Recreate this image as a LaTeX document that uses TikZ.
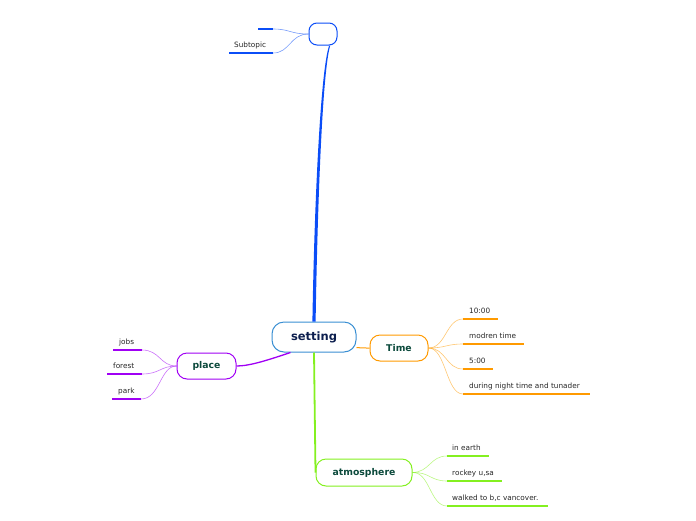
\documentclass[tikz,border=0pt]{standalone}
\usepackage{fontspec}
\setmainfont{DejaVu Sans}
\usetikzlibrary{calc}
\definecolor{cblue}{HTML}{0B4DF7}
\definecolor{cset}{HTML}{3A8FD3}
\definecolor{cpurple}{HTML}{A000F4}
\definecolor{corange}{HTML}{FF9A00}
\definecolor{cgreen}{HTML}{84F020}
\definecolor{clabel}{HTML}{0C4A3C}
\definecolor{cnavy}{HTML}{0C1E4E}
\begin{document}
\begin{tikzpicture}[x=1pt,y=-1pt,
  topic/.style={draw, line width=1pt, rounded corners=10pt, fill=white, inner sep=0pt,
    font=\bfseries\fontsize{9.3}{11}\selectfont, text=clabel},
  sub/.style={font=\fontsize{7.3}{8}\selectfont, text=black!85, inner sep=0pt, anchor=base west},
  uline/.style={line width=1.8pt},
  twig/.style={line width=0.6pt, opacity=0.55},
]
\useasboundingbox (0,0) rectangle (696,520);

% main nodes
\node[topic, draw=cset, text=cnavy, minimum width=84pt, minimum height=30pt, rounded corners=12pt,
  font=\bfseries\fontsize{11.5}{13}\selectfont] (set) at (314,337) {setting};
\node[topic, draw=cblue, minimum width=28pt, minimum height=22pt, rounded corners=8pt] (top) at (323,34) {};
\node[topic, draw=cpurple, minimum width=59pt, minimum height=26pt] (place) at (206.5,366) {place};
\node[topic, draw=corange, minimum width=58pt, minimum height=26pt] (time) at (399,348) {Time};
\node[topic, draw=cgreen, minimum width=96pt, minimum height=27pt] (atm) at (364,472.5) {atmosphere};

% main connectors (tapered)
\fill[cblue] ($(set.north)+(-1.6,0)$) .. controls (314.4,200) and (320.6,70) .. ($(top.-60)+(-0.5,0)$)
  -- ($(top.-60)+(0.6,0)$) .. controls (322.6,70) and (317.6,200) .. ($(set.north)+(1.6,0)$) -- cycle;
\draw[cpurple, line width=1.3pt] ($(set.south west)+(19,0)$) .. controls (268,360) and (250,366) .. (place.east);
\draw[corange, line width=1pt] ($(set.south east)+(0,-5)$) .. controls (362,348) and (364,348) .. (time.west);
\draw[cgreen, line width=1.8pt] (set.south) -- (atm.west);

% top children
\coordinate (t1) at (273,29);
\coordinate (t2) at (273,53);
\draw[uline, cblue] (t1) -- ++(-15,0);
\draw[uline, cblue] (t2) -- ++(-44,0);
\node[sub] (st) at (234,47) {Subtopic};
\draw[twig, cblue] (top.west) .. controls (290,34) and (290,29) .. (t1);
\draw[twig, cblue] (top.west) .. controls (290,34) and (290,53) .. (t2);

% place children
\coordinate (p1) at (142,350);
\coordinate (p2) at (142,374);
\coordinate (p3) at (141,399);
\draw[uline, cpurple] (p1) -- (113,350);
\draw[uline, cpurple] (p2) -- (107,374);
\draw[uline, cpurple] (p3) -- (112,399);
\node[sub] (jobs) at (119,344) {jobs};
\node[sub] (forest) at (113,368.5) {forest};
\node[sub] (park) at (118,393) {park};
\foreach \c in {p1,p2,p3}
  \draw[twig, cpurple] (place.west) .. controls (160,366) and (160,366|-\c) .. (\c);

% time children
\coordinate (a1) at (463,319);
\coordinate (a2) at (463,344);
\coordinate (a3) at (463,369);
\coordinate (a4) at (463,394);
\draw[uline, corange] (a1) -- ++(35,0);
\draw[uline, corange] (a2) -- ++(61,0);
\draw[uline, corange] (a3) -- ++(30,0);
\draw[uline, corange] (a4) -- ++(127,0);
\node[sub] (ten) at (469,313.5) {10:00};
\node[sub] (mod) at (469,338) {modren time};
\node[sub] (five) at (469,363) {5:00};
\node[sub] (night) at (469,388) {during night time and tunader};
\foreach \c in {a1,a2,a3,a4}
  \draw[twig, corange] (time.east) .. controls (446,348) and (446,348|-\c) .. (\c);

% atmosphere children
\coordinate (b1) at (447,456);
\coordinate (b2) at (447,481);
\coordinate (b3) at (447,506);
\draw[uline, cgreen] (b1) -- ++(42,0);
\draw[uline, cgreen] (b2) -- ++(55,0);
\draw[uline, cgreen] (b3) -- ++(101,0);
\node[sub] (earth) at (452,450) {in earth};
\node[sub] (rock) at (452,475) {rockey u,sa};
\node[sub] (walk) at (452,500) {walked to b,c vancover.};
\foreach \c in {b1,b2,b3}
  \draw[twig, cgreen] (atm.east) .. controls (430,472) and (430,472|-\c) .. (\c);
\end{tikzpicture}
\end{document}
